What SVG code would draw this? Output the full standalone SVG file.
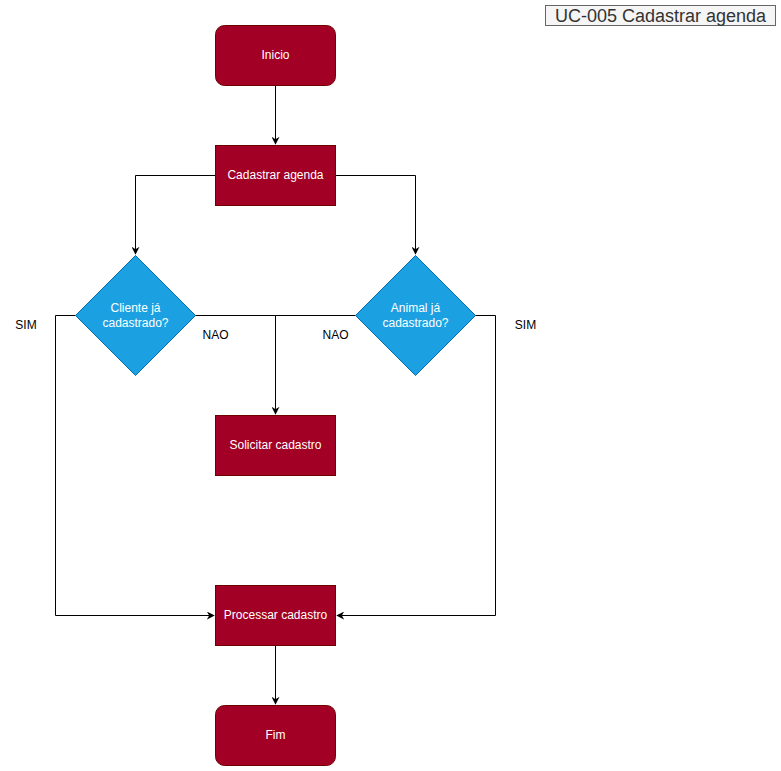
<svg xmlns="http://www.w3.org/2000/svg" width="781" height="771" viewBox="0 0 781 771">
<style>
.proc{fill:#a20025;stroke:#6f0000;stroke-width:1}
.dec{fill:#1ba1e2;stroke:#006eaf;stroke-width:1}
.wt{fill:#ffffff;font-family:"Liberation Sans",Arial,sans-serif;font-size:12px;text-anchor:middle}
.lbl{fill:#000000;font-family:"Liberation Sans",Arial,sans-serif;font-size:12px;text-anchor:middle}
.edge{fill:none;stroke:#000000;stroke-width:1}
</style>
<defs>
<marker id="arr" viewBox="0 0 10 10" refX="9" refY="5" markerWidth="8" markerHeight="8" markerUnits="userSpaceOnUse" orient="auto">
<path d="M0,0 L10,5 L0,10 L3,5 Z" fill="#000"/>
</marker>
</defs>
<rect width="781" height="771" fill="#ffffff"/>
<g id="title">
<rect x="545.5" y="5.5" width="230" height="20" fill="#f5f5f5" stroke="#666666"/>
<text x="660.5" y="22" font-family="'Liberation Sans',Arial,sans-serif" font-size="18" fill="#333333" text-anchor="middle">UC-005 Cadastrar agenda</text>
</g>
<g id="connectors">
<path class="edge" d="M275.5,85.5 V144" marker-end="url(#arr)"/>
<path class="edge" d="M215.5,175.5 H135.5 V254" marker-end="url(#arr)"/>
<path class="edge" d="M335.5,175.5 H415.5 V254" marker-end="url(#arr)"/>
<path class="edge" d="M195.5,315.5 H275.5 V414" marker-end="url(#arr)"/>
<path class="edge" d="M355.5,315.5 H275.5"/>
<path class="edge" d="M75.5,315.5 H55.5 V615.5 H214" marker-end="url(#arr)"/>
<path class="edge" d="M475.5,315.5 H495.5 V615.5 H337" marker-end="url(#arr)"/>
<path class="edge" d="M275.5,645.5 V704" marker-end="url(#arr)"/>
<text class="lbl" x="26" y="329">SIM</text>
<text class="lbl" x="215.5" y="339">NAO</text>
<text class="lbl" x="335.5" y="339">NAO</text>
<text class="lbl" x="525.5" y="329">SIM</text>
</g>
<g id="inicio">
<rect class="proc" x="215.5" y="25.5" width="120" height="60" rx="9" ry="9"/>
<text class="wt" x="275.5" y="59">Inicio</text>
</g>
<g id="cadastrar">
<rect class="proc" x="215.5" y="145.5" width="120" height="60"/>
<text class="wt" x="275.5" y="179">Cadastrar agenda</text>
</g>
<g id="cliente">
<path class="dec" d="M135.5,255.5 L195.5,315.5 L135.5,375.5 L75.5,315.5 Z"/>
<text class="wt" x="135.5" y="312">Cliente já</text>
<text class="wt" x="135.5" y="327">cadastrado?</text>
</g>
<g id="animal">
<path class="dec" d="M415.5,255.5 L475.5,315.5 L415.5,375.5 L355.5,315.5 Z"/>
<text class="wt" x="415.5" y="312">Animal já</text>
<text class="wt" x="415.5" y="327">cadastrado?</text>
</g>
<g id="solicitar">
<rect class="proc" x="215.5" y="415.5" width="120" height="60"/>
<text class="wt" x="275.5" y="449">Solicitar cadastro</text>
</g>
<g id="processar">
<rect class="proc" x="215.5" y="585.5" width="120" height="60"/>
<text class="wt" x="275.5" y="619">Processar cadastro</text>
</g>
<g id="fim">
<rect class="proc" x="215.5" y="705.5" width="120" height="60" rx="9" ry="9"/>
<text class="wt" x="275.5" y="739">Fim</text>
</g>
</svg>
